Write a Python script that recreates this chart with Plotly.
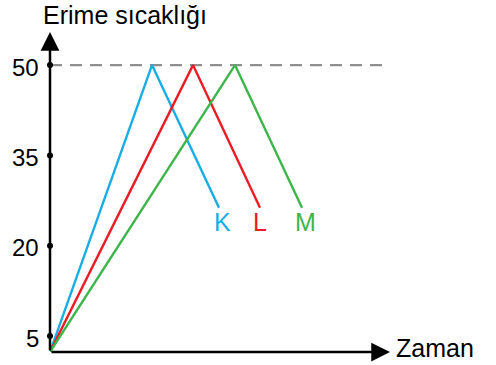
import plotly.graph_objects as go

# schematic melting-temperature chart
y_ticks = [5, 20, 35, 50]
series_names = ["K", "L", "M"]
series_colors = ["#19ade6", "#ec1c24", "#3db54a"]
start_y = 2.35
peak_x = [10.2, 14.3, 18.5]
peak_y = [50, 50, 50]
end_x = [16.9, 21.0, 25.2]
end_y = [26.3, 26.3, 26.3]
label_x = [17.2, 21.0, 25.5]
label_y = [24.0, 24.0, 24.0]

x_max = 34.0
y_max = 55.5

fig = go.Figure()

# dashed reference at 50
fig.add_trace(go.Scatter(
    x=[0, 33.8], y=[50, 50], mode="lines",
    line=dict(color="#8f8f8f", width=2.2, dash="12px,8px"),
    hoverinfo="skip", cliponaxis=False,
))

for name, col, px, py, ex, ey in zip(series_names, series_colors, peak_x, peak_y, end_x, end_y):
    fig.add_trace(go.Scatter(
        x=[0, px, ex], y=[start_y, py, ey], mode="lines",
        line=dict(color=col, width=2.4), name=name, cliponaxis=False,
    ))

# tick dots on the vertical axis
fig.add_trace(go.Scatter(
    x=[0] * len(y_ticks), y=y_ticks, mode="markers",
    marker=dict(color="black", size=6), cliponaxis=False,
))

annotations = []
# axes with arrowheads
for tip_x, tip_y in [(0, y_max), (x_max, start_y)]:
    annotations.append(dict(x=tip_x, y=tip_y, ax=0, ay=start_y, xref="x", yref="y",
                            axref="x", ayref="y", showarrow=True, arrowhead=2,
                            arrowsize=1.5, arrowwidth=2.5, arrowcolor="black", text=""))

for v in y_ticks:
    annotations.append(dict(x=0, y=v, text=str(v), showarrow=False, xanchor="right",
                            yanchor="middle", xshift=-9, yshift=-2, font=dict(size=24)))

for name, col, lx, ly in zip(series_names, series_colors, label_x, label_y):
    annotations.append(dict(x=lx, y=ly, text=name, showarrow=False,
                            font=dict(size=25, color=col)))

annotations.append(dict(x=0, y=1.0, xref="paper", yref="paper", xanchor="left",
                        yanchor="bottom", xshift=-9, yshift=1, text="Erime sıcaklığı",
                        showarrow=False, font=dict(size=25)))
annotations.append(dict(x=x_max, y=start_y, xanchor="left", yanchor="middle",
                        xshift=4, yshift=4, text="Zaman", showarrow=False,
                        font=dict(size=25)))

fig.update_layout(
    width=496, height=365,
    margin=dict(l=50, r=106, t=32, b=13),
    plot_bgcolor="white", paper_bgcolor="white",
    showlegend=False,
    font=dict(family="Liberation Sans, Arial, sans-serif", color="black"),
    xaxis=dict(range=[0, x_max], showgrid=False, zeroline=False, automargin=False,
               showticklabels=False, showline=False),
    yaxis=dict(range=[start_y, y_max], showgrid=False, zeroline=False, automargin=False,
               showticklabels=False, showline=False),
    annotations=annotations,
)

# drop the default 8px body margin so the figure sits at the window's corner
fig.write_html("out.html", config={"displayModeBar": False},
               post_script="document.body.style.margin = '0';")
